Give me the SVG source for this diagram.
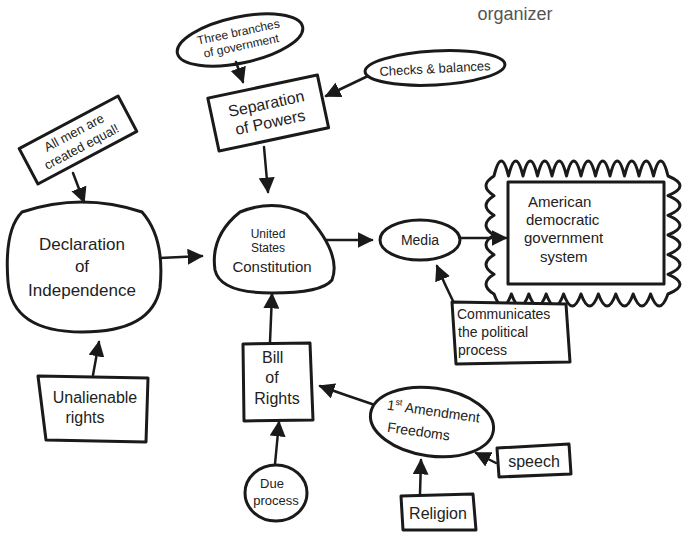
<svg xmlns="http://www.w3.org/2000/svg" width="684" height="533" viewBox="0 0 684 533">
<defs>
<style>
.s{fill:#fff;stroke:#1a1a1a;stroke-width:3;stroke-linejoin:round}
.c{fill:none;stroke:#1a1a1a;stroke-width:2.5;stroke-linecap:round}
text{font-family:"Liberation Sans","DejaVu Sans",sans-serif;fill:#222;text-anchor:middle}
.l{text-anchor:start}
</style>
<marker id="ah" viewBox="0 0 10 10" refX="9" refY="5" markerWidth="16" markerHeight="16" markerUnits="userSpaceOnUse" orient="auto">
<path d="M0,0 L10,5 L0,10 Z" fill="#1a1a1a"/>
</marker>
</defs>
<rect width="684" height="533" fill="#fff"/>
<text x="515" y="20" font-size="18" style="text-anchor:middle;fill:#555">organizer</text>

<g id="three-branches" transform="rotate(-12 240 40)">
<ellipse class="s" cx="240" cy="40" rx="64" ry="23"/>
<text x="240" y="36" font-size="12">Three branches</text>
<text x="240" y="50" font-size="12">of government</text>
</g>

<g id="separation" transform="rotate(-12 268 112)">
<rect class="s" x="212" y="86" width="112" height="54"/>
<text x="268" y="109" font-size="16">Separation</text>
<text x="268" y="128" font-size="16">of Powers</text>
</g>

<g id="checks" transform="rotate(-3 435 68)">
<ellipse class="s" cx="435" cy="68" rx="70" ry="17"/>
<text x="435" y="73" font-size="13">Checks &amp; balances</text>
</g>

<g id="all-men" transform="rotate(-28 78 140)">
<rect class="s" x="22" y="120" width="112" height="40"/>
<text x="78" y="136" font-size="13">All men are</text>
<text x="78" y="152" font-size="13">created equal!</text>
</g>

<g id="declaration">
<path class="s" d="M22,212 Q82,192 142,212 Q165,238 160,288 Q152,332 82,332 Q12,332 8,282 Q4,230 22,212 Z"/>
<text x="82" y="250" font-size="17">Declaration</text>
<text x="82" y="272" font-size="17">of</text>
<text x="82" y="296" font-size="17">Independence</text>
</g>

<g id="constitution">
<path class="s" d="M240,212 Q275,198 306,214 Q342,254 332,280 Q322,293 272,293 Q220,293 215,270 Q210,236 240,212 Z"/>
<text x="268" y="238" font-size="12">United</text>
<text x="268" y="252" font-size="12">States</text>
<text x="272" y="272" font-size="15">Constitution</text>
</g>

<g id="media">
<ellipse class="s" cx="420" cy="240" rx="40" ry="20"/>
<text x="420" y="245" font-size="14">Media</text>
</g>

<g id="american-system">
<path class="s" d="M494,176 Q501.25,146 508.5,176 Q515.75,146 523,176 Q530.25,146 537.5,176 Q544.75,146 552,176 Q559.25,146 566.5,176 Q573.75,146 581,176 Q588.25,146 595.5,176 Q602.75,146 610,176 Q617.25,146 624.5,176 Q631.75,146 639,176 Q646.25,146 653.5,176 Q660.75,146 668,176 Q692,185.8 668,195.7 Q692,205.5 668,215.3 Q692,225.2 668,235 Q692,244.8 668,254.7 Q692,264.5 668,274.3 Q692,284.2 668,294 Q659.3,318 650.6,294 Q641.9,318 633.2,294 Q624.5,318 615.8,294 Q607.1,318 598.4,294 Q589.7,318 581,294 Q572.3,318 563.6,294 Q554.9,318 546.2,294 Q537.5,318 528.8,294 Q520.1,318 511.4,294 Q502.7,318 494,294 Q478,284.2 494,274.3 Q478,264.5 494,254.7 Q478,244.8 494,235 Q478,225.2 494,215.3 Q478,205.5 494,195.7 Q478,185.8 494,176 Z"/>
<rect class="s" x="508" y="182" width="156" height="102"/>
<text class="l" x="528" y="207" font-size="15">American</text>
<text class="l" x="526" y="225" font-size="15">democratic</text>
<text class="l" x="524" y="243" font-size="15">government</text>
<text class="l" x="540" y="262" font-size="15">system</text>
</g>

<g id="communicates">
<path class="s" d="M452,302 L566,304 L570,362 L456,364 Z"/>
<text class="l" x="457" y="319" font-size="14">Communicates</text>
<text class="l" x="458" y="337" font-size="14">the  political</text>
<text class="l" x="458" y="355" font-size="14">process</text>
</g>

<g id="unalienable">
<path class="s" d="M38,376 L148,378 L146,442 L46,440 Z"/>
<text x="95" y="403" font-size="16">Unalienable</text>
<text x="85" y="423" font-size="16">rights</text>
</g>

<g id="bill-of-rights">
<path class="s" d="M243,344 L310,343 L313,420 L244,421 Z"/>
<text x="262" y="363" font-size="16" class="l" style="text-anchor:start">Bill</text>
<text x="272" y="383" font-size="16">of</text>
<text x="277" y="404" font-size="16">Rights</text>
</g>

<g id="due-process">
<ellipse class="s" cx="276" cy="493" rx="31" ry="28"/>
<text x="272" y="488" font-size="13">Due</text>
<text x="276" y="505" font-size="13">process</text>
</g>

<g id="first-amendment" transform="rotate(8 432 422)">
<ellipse class="s" cx="432" cy="422" rx="62" ry="34"/>
<text x="432" y="416" font-size="14">1<tspan font-size="9" dy="-6">st</tspan><tspan dy="6"> Amendment</tspan></text>
<text x="420" y="438" font-size="14">Freedoms</text>
</g>

<g id="speech">
<path class="s" d="M497,448 L569,444 L571,474 L499,477 Z"/>
<text x="534" y="467" font-size="16">speech</text>
</g>

<g id="religion">
<path class="s" d="M401,496 L473,494 L476,530 L403,530 Z"/>
<text x="438" y="519" font-size="16">Religion</text>
</g>

<g id="connectors">
<path class="c" d="M236,62 L243,82" marker-end="url(#ah)"/>
<path class="c" d="M368,76 L326,96" marker-end="url(#ah)"/>
<path class="c" d="M264,147 L268,192" marker-end="url(#ah)"/>
<path class="c" d="M73,173 L84,202" marker-end="url(#ah)"/>
<path class="c" d="M160,258 L202,256" marker-end="url(#ah)"/>
<path class="c" d="M326,240 L372,240" marker-end="url(#ah)"/>
<path class="c" d="M461,238 L506,238" marker-end="url(#ah)"/>
<path class="c" d="M453,301 Q445,285 437,266" marker-end="url(#ah)"/>
<path class="c" d="M93,375 L99,342" marker-end="url(#ah)"/>
<path class="c" d="M270,342 L272,294" marker-end="url(#ah)"/>
<path class="c" d="M275,464 L279,422" marker-end="url(#ah)"/>
<path class="c" d="M372,404 Q345,395 320,386" marker-end="url(#ah)"/>
<path class="c" d="M496,463 L476,453" marker-end="url(#ah)"/>
<path class="c" d="M420,494 L421,460" marker-end="url(#ah)"/>
</g>
</svg>
